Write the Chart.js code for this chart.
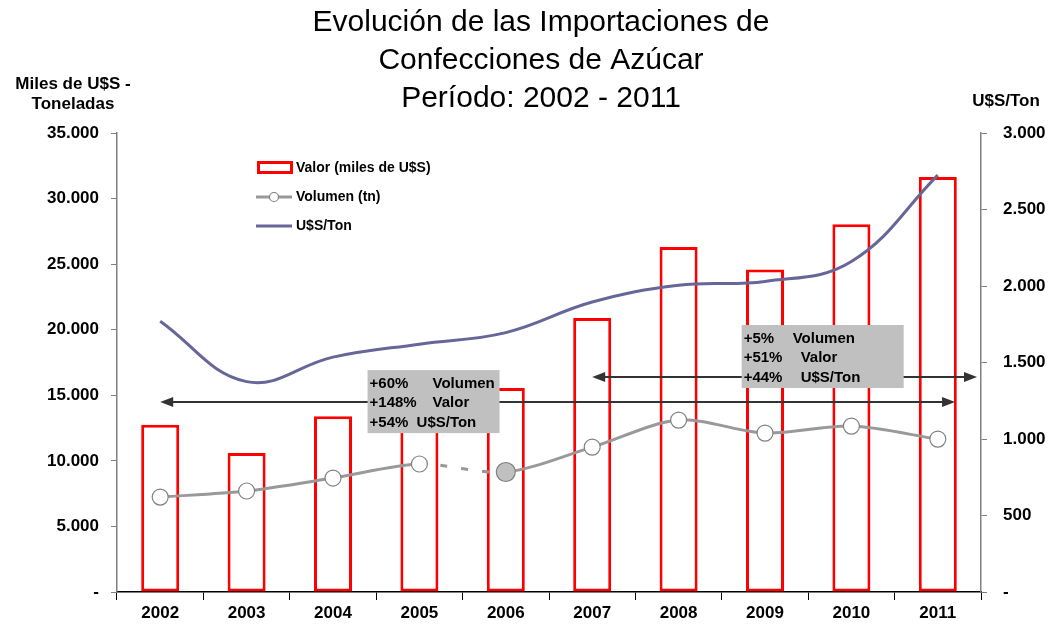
<!DOCTYPE html>
<html>
<head>
<meta charset="utf-8">
<script src="https://cdn.jsdelivr.net/npm/chart.js@4.4.0/dist/chart.umd.min.js"></script>
<style>
  html, body { margin: 0; padding: 0; background: #fff; }
  #wrap { width: 1050px; height: 626px; }
</style>
</head>
<body>
<div id="wrap"><canvas id="myChart" width="1050" height="626"></canvas></div>
<script>
// data
var years = ['2002', '2003', '2004', '2005', '2006', '2007', '2008', '2009', '2010', '2011'];
var valor = [12750, 10600, 13400, 15800, 15550, 20900, 26300, 24600, 28050, 31650];
var volumen = [7240, 7700, 8690, 9760, 9150, 11050, 13110, 12120, 12650, 11660];
var usdTon = [1770, 1375, 1535, 1620, 1695, 1895, 2005, 2030, 2160, 2725];

var titleLines = ['Evolución de las Importaciones de', 'Confecciones de Azúcar', 'Período: 2002 - 2011'];
var leftTitle = ['Miles de U$S -', 'Toneladas'];
var rightTitle = 'U$S/Ton';
var note1 = [['+60%', 'Volumen'], ['+148%', 'Valor'], ['+54%', 'U$S/Ton']];
var note2 = [['+5%', 'Volumen'], ['+51%', 'Valor'], ['+44%', 'U$S/Ton']];

var FONT = "'Liberation Sans', Arial, sans-serif";

function fmt(v) {
    if (v === 0) return '-';
    return String(v).replace(/\B(?=(\d{3})+(?!\d))/g, '.');
}

function arrow(c, x1, x2, y, both) {
    c.save();
    c.strokeStyle = '#333';
    c.fillStyle = '#333';
    c.lineWidth = 2;
    c.beginPath();
    c.moveTo(x1 + (both ? 8 : 0), y);
    c.lineTo(x2 - 8, y);
    c.stroke();
    c.beginPath();
    c.moveTo(x2, y); c.lineTo(x2 - 13, y - 5); c.lineTo(x2 - 13, y + 5); c.closePath();
    c.fill();
    if (both) {
        c.beginPath();
        c.moveTo(x1, y); c.lineTo(x1 + 13, y - 5); c.lineTo(x1 + 13, y + 5); c.closePath();
        c.fill();
    }
    c.restore();
}

function noteBox(c, x, y, w, h, lines, col2) {
    c.save();
    c.fillStyle = '#c0c0c0';
    c.fillRect(x, y, w, h);
    c.fillStyle = '#000';
    c.font = 'bold 15px ' + FONT;
    c.textBaseline = 'middle';
    c.textAlign = 'left';
    lines.forEach(function (ln, i) {
        var ty = y + 13.5 + i * 19.5;
        c.fillText(ln[0], x + 2, ty);
        c.fillText(ln[1], x + col2[i], ty);
    });
    c.restore();
}

var extras = {
    id: 'extras',
    afterDatasetsDraw: function (chart) {
        var c = chart.ctx;
        var xs = chart.scales.x, yl = chart.scales.y, yr = chart.scales.y1;
        var step = xs.getPixelForValue(1) - xs.getPixelForValue(0);
        var area = chart.chartArea;

        // arrows
        arrow(c, xs.getPixelForValue(0), xs.getPixelForValue(9) + 0.2 * step, yl.getPixelForValue(14480), true);
        arrow(c, xs.getPixelForValue(5), area.right - 4, yr.getPixelForValue(1405), true);

        // note boxes
        var b1x = xs.getPixelForValue(2) + 0.4 * step;
        noteBox(c, b1x, yl.getPixelForValue(16920), 132, 63, note1, [65, 65, 49]);
        var b2x = xs.getPixelForValue(7) - 0.27 * step;
        noteBox(c, b2x, yr.getPixelForValue(1745), 162, 63, note2, [51, 59, 59]);

        // legend
        var lx = area.left + 140;
        c.save();
        c.font = 'bold 14px ' + FONT;
        c.textBaseline = 'middle';
        c.strokeStyle = '#ff0000';
        c.lineWidth = 3;
        c.fillStyle = '#fff';
        c.fillRect(lx + 1.5, 162.5, 33, 10);
        c.strokeRect(lx + 1.5, 162.5, 33, 10);
        c.fillStyle = '#000';
        c.fillText('Valor (miles de U$S)', lx + 39, 168);

        c.strokeStyle = '#999999';
        c.beginPath(); c.moveTo(lx - 1, 197); c.lineTo(lx + 35, 197); c.stroke();
        c.beginPath(); c.arc(lx + 17, 197, 4.5, 0, Math.PI * 2);
        c.fillStyle = '#fff'; c.fill();
        c.lineWidth = 1.2; c.strokeStyle = '#808080'; c.stroke();
        c.fillStyle = '#000';
        c.fillText('Volumen (tn)', lx + 39, 197);

        c.strokeStyle = '#666699';
        c.lineWidth = 3;
        c.beginPath(); c.moveTo(lx - 1, 226); c.lineTo(lx + 35, 226); c.stroke();
        c.fillText('U$S/Ton', lx + 39, 226);
        c.restore();
    },
    afterDraw: function (chart) {
        var c = chart.ctx;
        c.save();
        c.fillStyle = '#000';
        c.textAlign = 'center';
        c.textBaseline = 'middle';
        c.font = '30px ' + FONT;
        titleLines.forEach(function (t, i) {
            c.fillText(t, 541, 23 + i * 38);
        });
        c.font = 'bold 17px ' + FONT;
        c.fillText(leftTitle[0], 73, 84);
        c.fillText(leftTitle[1], 73, 104);
        c.fillText(rightTitle, 1006, 101);
        c.restore();
    }
};

var ctx = document.getElementById('myChart').getContext('2d');
var chart = new Chart(ctx, {
    type: 'bar',
    data: {
        labels: years,
        datasets: [{
            type: 'line',
            label: 'U$S/Ton',
            data: usdTon,
            yAxisID: 'y1',
            borderColor: '#666699',
            borderWidth: 3,
            pointRadius: 0,
            tension: 0.4,
            fill: false,
            order: 1
        }, {
            type: 'line',
            label: 'Volumen (tn)',
            data: volumen,
            yAxisID: 'y',
            borderColor: '#999999',
            borderWidth: 3,
            tension: 0.3,
            fill: false,
            pointRadius: function (c) { return c.dataIndex === 4 ? 9.5 : 8; },
            pointBackgroundColor: function (c) { return c.dataIndex === 4 ? '#c0c0c0' : '#ffffff'; },
            pointBorderColor: '#808080',
            pointBorderWidth: 1.2,
            segment: {
                borderDash: function (s) { return s.p0DataIndex === 3 ? [7, 14] : undefined; }
            },
            order: 2
        }, {
            label: 'Valor (miles de US$)',
            data: valor,
            yAxisID: 'y',
            backgroundColor: '#ffffff',
            borderColor: '#ff0000',
            borderWidth: 3,
            borderSkipped: false,
            barPercentage: 0.44,
            categoryPercentage: 1.0,
            order: 3
        }]
    },
    options: {
        responsive: false,
        animation: false,
        layout: { padding: { top: 133, left: 0, right: 0, bottom: 0 } },
        plugins: {
            legend: { display: false },
            title: { display: false },
            tooltip: { enabled: false }
        },
        scales: {
            x: {
                grid: { drawOnChartArea: false, color: '#000', tickLength: 8, offset: true },
                border: { color: '#000', width: 1.5 },
                ticks: { color: '#000', font: { family: FONT, size: 17, weight: 'bold' }, padding: 3, maxRotation: 0 },
                afterFit: function (s) { s.height = 34; }
            },
            y: {
                position: 'left',
                min: 0, max: 35000,
                ticks: { stepSize: 5000, color: '#000', font: { family: FONT, size: 17, weight: 'bold' }, padding: 12, callback: fmt },
                grid: { drawOnChartArea: false, color: '#808080', tickLength: 6 },
                border: { color: '#808080', width: 1.5 },
                afterFit: function (s) { s.width = 117; }
            },
            y1: {
                position: 'right',
                min: 0, max: 3000,
                ticks: { stepSize: 500, color: '#000', font: { family: FONT, size: 17, weight: 'bold' }, padding: 16, callback: fmt },
                grid: { drawOnChartArea: false, color: '#808080', tickLength: 6 },
                border: { color: '#808080', width: 1.5 },
                afterFit: function (s) { s.width = 69; }
            }
        }
    },
    plugins: [extras]
});
</script>
</body>
</html>
